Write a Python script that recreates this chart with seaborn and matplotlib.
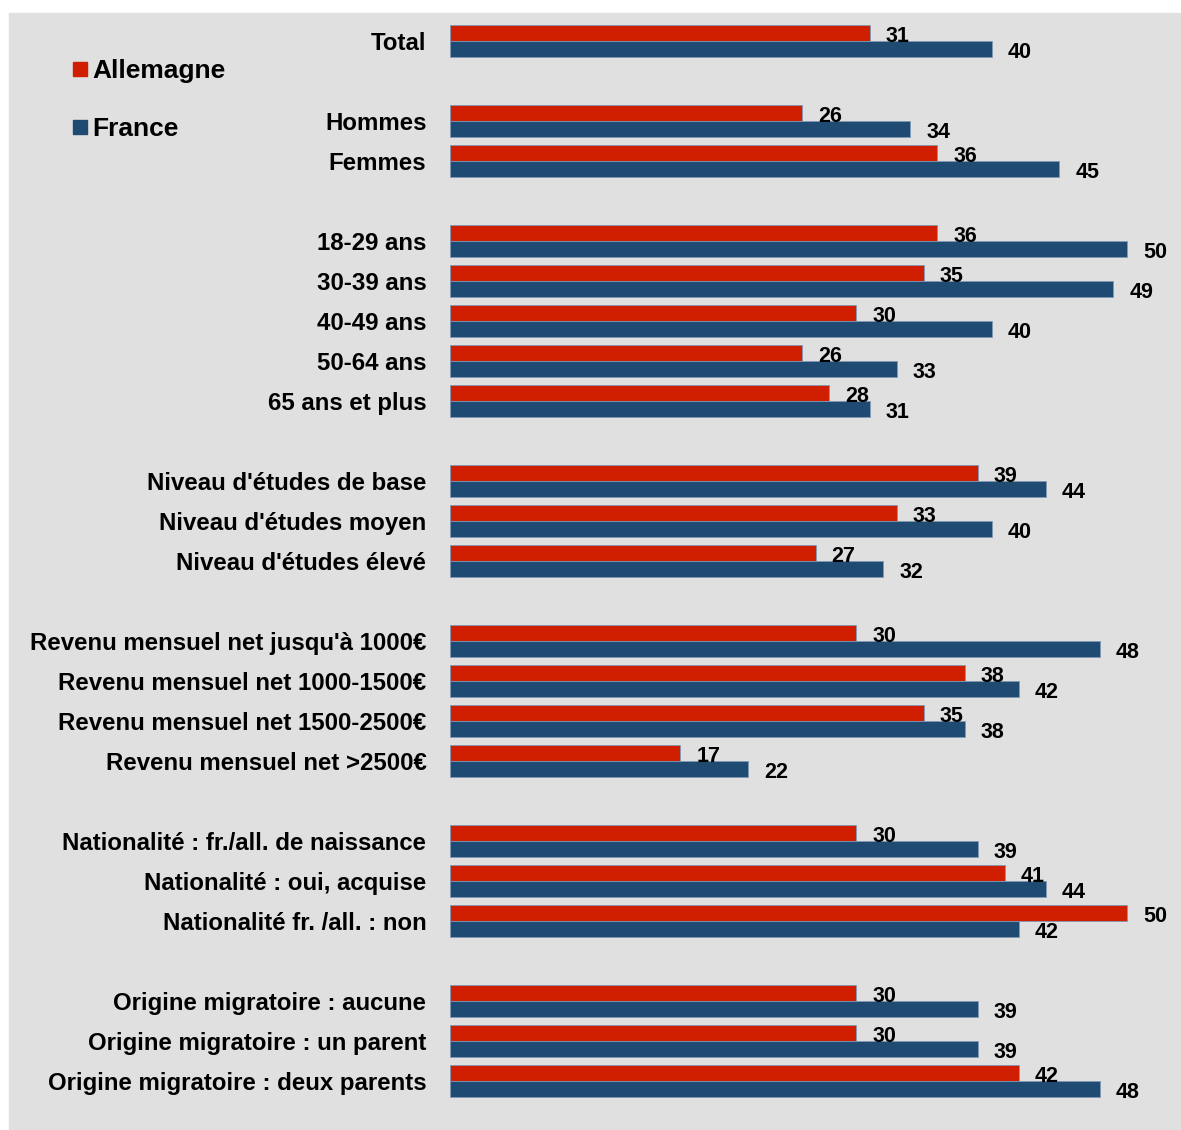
import matplotlib
matplotlib.use("Agg")
import matplotlib.pyplot as plt
import seaborn as sns
import pandas as pd
from matplotlib.patches import Rectangle
from matplotlib.lines import Line2D

categories = [
    "Total",
    "Hommes", "Femmes",
    "18-29 ans", "30-39 ans", "40-49 ans", "50-64 ans", "65 ans et plus",
    "Niveau d'études de base", "Niveau d'études moyen", "Niveau d'études élevé",
    "Revenu mensuel net jusqu'à 1000€", "Revenu mensuel net 1000-1500€",
    "Revenu mensuel net 1500-2500€", "Revenu mensuel net >2500€",
    "Nationalité : fr./all. de naissance", "Nationalité : oui, acquise",
    "Nationalité fr. /all. : non",
    "Origine migratoire : aucune", "Origine migratoire : un parent",
    "Origine migratoire : deux parents",
]
allemagne = [31, 26, 36, 36, 35, 30, 26, 28, 39, 33, 27, 30, 38, 35, 17, 30, 41, 50, 30, 30, 42]
france = [40, 34, 45, 50, 49, 40, 33, 31, 44, 40, 32, 48, 42, 38, 22, 39, 44, 42, 39, 39, 48]
series = ["Allemagne", "France"]
colors = ["#d01f00", "#1f4a72"]

# group sizes (blank row between groups)
groups = [1, 2, 5, 3, 4, 3, 3]
order = []
i = 0
for gi, n in enumerate(groups):
    if gi > 0:
        order.append(" " * gi)
    order.extend(categories[i:i + n])
    i += n

df = pd.DataFrame({
    "cat": categories * 2,
    "val": allemagne + france,
    "pays": ["Allemagne"] * len(categories) + ["France"] * len(categories),
})

plt.rcParams["font.family"] = ["Liberation Sans", "DejaVu Sans"]
W, H = 1181, 1130
fig = plt.figure(figsize=(W / 100, H / 100), dpi=100)
fig.patch.set_facecolor("white")
fig.patches.append(Rectangle((9 / W, 0), (1180 - 9) / W, (H - 13) / H,
                             transform=fig.transFigure, color="#e0e0e0", zorder=-10))

left, right = 450 / W, 1170 / W
top, bottom = 1 - 21 / H, 1 - 1101 / H
ax = fig.add_axes([left, bottom, right - left, top - bottom])
ax.set_facecolor("none")

sns.barplot(data=df, y="cat", x="val", hue="pays", order=order, hue_order=series,
            palette=colors, saturation=1, orient="h", width=0.8, ax=ax, legend=False,
            edgecolor="#7f9ab5", linewidth=0.6)

px_per_unit = (1127 - 450) / 50
ax.set_xlim(0, (1170 - 450) / px_per_unit)
ax.set_ylim(len(order) - 0.5, -0.5)

for cont in ax.containers:
    for bar in cont:
        w = bar.get_width()
        if pd.isna(w) or w == 0:
            continue
        ax.annotate(f"{w:.0f}", (w, bar.get_y() + bar.get_height() / 2),
                    xytext=(11.5, -2.5), textcoords="offset points",
                    ha="left", va="center", fontsize=15.5, fontweight="bold", color="black")

for s in ax.spines.values():
    s.set_visible(False)
ax.set_xticks([])
ax.set_xlabel("")
ax.set_ylabel("")
ax.tick_params(axis="y", length=0, pad=17)
for lab in ax.get_yticklabels():
    lab.set_fontsize(17.3)
    lab.set_fontweight("bold")

handles = [Line2D([], [], marker="s", linestyle="none", markersize=10,
                  markerfacecolor=c, markeredgecolor=c) for c in colors]
fig.legend(handles, series, loc="upper left", bbox_to_anchor=(59 / W, 1 - 46 / H),
           frameon=False, prop={"size": 19, "weight": "bold"},
           handlelength=0.6, handletextpad=0.15, labelspacing=1.3, borderpad=0)

fig.savefig("out.png", dpi=100, facecolor=fig.get_facecolor())
